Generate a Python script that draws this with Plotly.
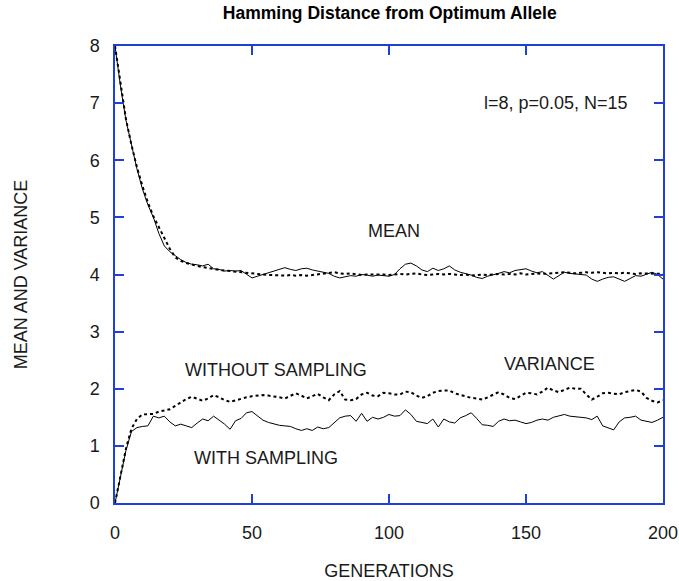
import plotly.graph_objects as go

generations = list(range(0, 201, 2))

mean_with_sampling = [
    8.0, 7.3, 6.7, 6.25, 5.85, 5.5, 5.22, 5.0, 4.72, 4.5,
    4.4, 4.33, 4.26, 4.21, 4.18, 4.17, 4.15, 4.18, 4.1, 4.09,
    4.06, 4.07, 4.06, 4.07, 4.0, 3.94, 3.97, 4.0, 4.03, 4.06,
    4.1, 4.12, 4.09, 4.07, 4.1, 4.11, 4.08, 4.06, 4.04, 4.02,
    3.97, 3.94, 3.96, 3.98, 3.97, 4.0, 3.99, 3.97, 3.99, 3.98,
    3.97, 4.0, 4.1, 4.18, 4.2, 4.15, 4.08, 4.05, 4.11, 4.07,
    4.1, 4.15, 4.08, 4.04, 4.02, 3.99, 3.95, 3.93, 3.97, 3.99,
    4.02, 4.05, 4.03, 4.07, 4.08, 4.1, 4.06, 4.03, 4.05, 3.98,
    3.92, 3.98, 4.04, 4.02, 4.01, 4.0, 3.99, 3.92, 3.88, 3.92,
    3.95, 3.96, 3.92, 3.88, 3.93, 3.98, 3.97, 4.01, 4.04, 4.0,
    3.92,
]

mean_without_sampling = [
    8.0, 7.32, 6.72, 6.27, 5.88, 5.55, 5.26, 5.02, 4.82, 4.65,
    4.45, 4.3, 4.24, 4.2, 4.17, 4.15, 4.13, 4.11, 4.1, 4.08,
    4.07, 4.06, 4.05, 4.04, 4.03, 4.02, 4.0, 4.0, 3.99, 3.99,
    3.98, 3.98, 3.99, 3.98, 3.99, 3.98, 3.99, 4.0, 4.01, 4.03,
    4.04, 4.02, 4.01, 4.02, 4.0, 3.99, 4.0, 4.0, 4.01, 4.0,
    3.99, 4.0, 4.01, 4.0, 4.01, 4.02, 4.0, 3.99, 4.0, 4.01,
    4.0, 4.01, 4.0, 3.99, 4.0, 3.98, 3.99, 4.0, 3.99, 4.0,
    4.01, 4.0, 4.01, 4.0, 4.02, 4.0, 4.01, 4.02, 4.01, 4.02,
    4.03, 4.03, 4.04, 4.03, 4.02, 4.03, 4.04, 4.03, 4.04, 4.03,
    4.02, 4.03, 4.02, 4.03, 4.02, 4.01, 4.02, 4.02, 4.01, 4.02,
    4.01,
]

variance_with_sampling = [
    0.0, 0.48, 0.92, 1.25, 1.32, 1.34, 1.35, 1.52, 1.49, 1.52,
    1.42, 1.35, 1.38, 1.35, 1.32, 1.4, 1.47, 1.44, 1.52, 1.45,
    1.38, 1.29, 1.44, 1.48, 1.58, 1.6, 1.52, 1.45, 1.41, 1.38,
    1.36, 1.35, 1.34, 1.3, 1.27, 1.3, 1.27, 1.33, 1.3, 1.32,
    1.4, 1.49, 1.52, 1.53, 1.43, 1.57, 1.43, 1.5, 1.47, 1.5,
    1.55, 1.52, 1.53, 1.63, 1.55, 1.43, 1.41, 1.39, 1.47, 1.33,
    1.47, 1.42, 1.4, 1.49, 1.53, 1.58, 1.48, 1.37, 1.36, 1.34,
    1.43, 1.47, 1.44, 1.45, 1.42, 1.39, 1.41, 1.45, 1.47, 1.45,
    1.5, 1.53, 1.55, 1.52, 1.51, 1.5, 1.49, 1.46, 1.52, 1.35,
    1.31, 1.28, 1.42, 1.49, 1.5, 1.52, 1.45, 1.43, 1.41, 1.45,
    1.5,
]

variance_without_sampling = [
    0.0, 0.5, 0.95, 1.3, 1.47, 1.55, 1.56, 1.56, 1.6, 1.62,
    1.64, 1.7, 1.76, 1.82, 1.86, 1.83, 1.79, 1.83, 1.89, 1.85,
    1.8, 1.77, 1.8, 1.83, 1.85, 1.87, 1.88, 1.89, 1.88, 1.87,
    1.85, 1.83, 1.88, 1.92, 1.88, 1.83, 1.87, 1.91, 1.85, 1.8,
    1.9, 1.96, 1.81, 1.8, 1.82, 1.9, 1.93, 1.88, 1.87, 1.93,
    1.92, 1.9, 1.9, 1.95, 1.94, 1.88, 1.84, 1.87, 1.93, 1.96,
    1.97, 1.97, 1.92, 1.89, 1.86, 1.84, 1.83, 1.81, 1.85, 1.9,
    1.94, 1.9, 1.84, 1.82, 1.87, 1.93, 1.92, 1.9, 1.95, 2.02,
    1.97, 1.94, 1.98, 2.02, 2.0, 2.0, 1.9, 1.81, 1.86, 1.92,
    1.93, 1.91, 1.9, 1.94, 1.96, 1.98, 1.95, 1.84, 1.79, 1.76,
    1.8,
]

labels = ["MEAN", "WITHOUT SAMPLING", "VARIANCE", "WITH SAMPLING", "l=8, p=0.05, N=15"]
label_x = [101.8, 58.6, 158.6, 55.1, 161]
label_y = [4.76, 2.33, 2.43, 0.78, 7.01]

x_ticks = [0, 50, 100, 150, 200]
y_ticks = [0, 1, 2, 3, 4, 5, 6, 7, 8]

FONT = "Liberation Sans, Arial, sans-serif"
AXIS_BLUE = "#1f3fd8"
TXT = "#1a1a1a"

fig = go.Figure()
for ys in [mean_without_sampling, variance_without_sampling]:
    fig.add_trace(go.Scatter(x=generations, y=ys, mode="lines",
                             line=dict(color="black", width=2, dash="3px,3px"),
                             showlegend=False, hoverinfo="skip"))
for ys in [mean_with_sampling, variance_with_sampling]:
    fig.add_trace(go.Scatter(x=generations, y=ys, mode="lines",
                             line=dict(color="black", width=1),
                             showlegend=False, hoverinfo="skip"))

for t, xv, yv in zip(labels, label_x, label_y):
    fig.add_annotation(x=xv, y=yv, text=t, showarrow=False,
                       font=dict(family=FONT, size=18, color=TXT),
                       xanchor="center", yanchor="middle")

axis_common = dict(showgrid=False, zeroline=False, showline=True, linecolor=AXIS_BLUE,
                   linewidth=1.5, mirror="ticks", ticks="inside", ticklen=9,
                   tickcolor=AXIS_BLUE, tickwidth=1.5, automargin=False,
                   tickfont=dict(family=FONT, size=18, color=TXT))

fig.update_layout(
    width=679, height=581,
    margin=dict(l=115, r=16, t=46, b=78, autoexpand=False),
    paper_bgcolor="white", plot_bgcolor="white",
    title=dict(text="<b>Hamming Distance from Optimum Allele</b>", x=0.574, xanchor="center",
               y=0.978, yanchor="middle",
               font=dict(family=FONT, size=17.5, color="black")),
    xaxis=dict(range=[0, 200], tickvals=x_ticks, ticktext=[str(v) for v in x_ticks],
               ticklabelstandoff=13,
               title=dict(text="GENERATIONS", standoff=23,
                          font=dict(family=FONT, size=18, color=TXT)),
               **axis_common),
    yaxis=dict(range=[0, 8], tickvals=y_ticks, ticktext=[str(v) for v in y_ticks],
               ticklabelstandoff=10,
               title=dict(text="MEAN AND VARIANCE", standoff=57,
                          font=dict(family=FONT, size=18, color=TXT)),
               **axis_common),
)

fig.write_html("out.html")
